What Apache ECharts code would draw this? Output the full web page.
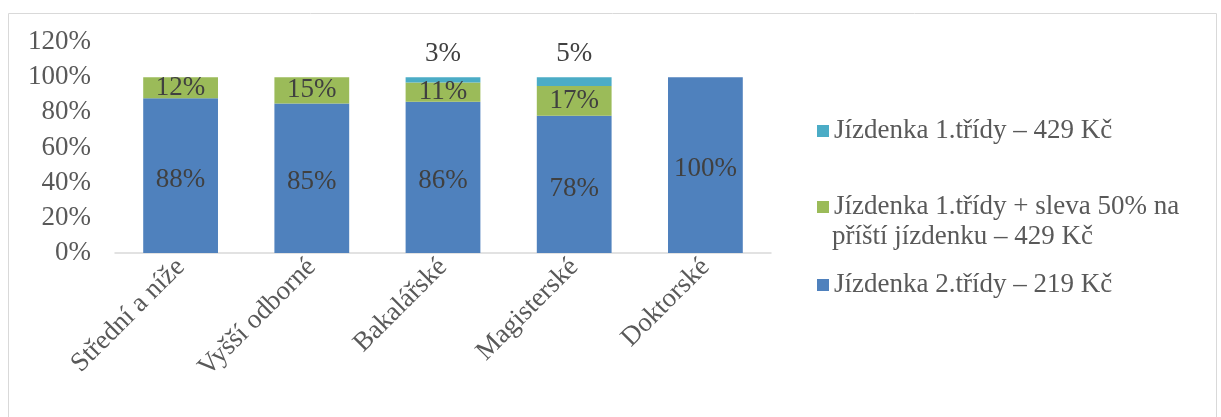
<!DOCTYPE html>
<html><head><meta charset="utf-8">
<script src="https://cdn.jsdelivr.net/npm/echarts@6/dist/echarts.min.js"></script>
<style>html,body{margin:0;padding:0;background:#fff}#c{width:1221px;height:417px}</style>
</head><body><div id="c"></div>
<script>
const categories = ['Střední a níže', 'Vyšší odborné', 'Bakalářské', 'Magisterské', 'Doktorské'];
const seriesNames = ['Jízdenka 2.třídy – 219 Kč', 'Jízdenka 1.třídy + sleva 50% na\npříští jízdenku – 429 Kč', 'Jízdenka 1.třídy – 429 Kč'];
const secondClass = [88, 85, 86, 78, 100];
const firstClassDiscount = [12, 15, 11, 17, 0];
const firstClass = [0, 0, 3, 5, 0];
const yTicks = [0, 20, 40, 60, 80, 100, 120];

const FONT = "'Liberation Serif', 'Times New Roman', serif";
const colors = ['#4f81bd', '#9bbb59', '#4bacc6'];
const fmt = p => p.value ? p.value + '%' : '';
const lbl = {show: true, formatter: fmt, color: '#404040', fontFamily: FONT, fontSize: 27};

const chart = echarts.init(document.getElementById('c'), null, {renderer: 'canvas'});
const legendBase = {
  orient: 'vertical', left: 812, itemWidth: 12, itemHeight: 12, itemGap: 0,
  icon: 'rect', selectedMode: false,
  textStyle: {fontFamily: FONT, fontSize: 27, color: '#595959', lineHeight: 34}
};
chart.setOption({
  animation: false,
  textStyle: {fontFamily: FONT},
  graphic: [
    {type: 'rect', shape: {x: 8.5, y: 13.5, width: 1208, height: 420}, style: {fill: 'none', stroke: '#d9d9d9', lineWidth: 1}, silent: true},
    {type: 'text', left: 832, top: 223, style: {text: seriesNames[1].split('\n')[1], font: "27px 'Liberation Serif', 'Times New Roman', serif", fill: '#595959'}, silent: true}
  ],
  legend: [
    Object.assign({}, legendBase, {top: 109, data: [seriesNames[2]]}),
    Object.assign({}, legendBase, {top: 185, data: [seriesNames[1]], formatter: n => n.split('\n')[0]}),
    Object.assign({}, legendBase, {top: 263, data: [seriesNames[0]]})
  ],
  grid: {left: 115, right: 450, top: 42, bottom: 164, containLabel: false},
  xAxis: {
    type: 'category', data: categories,
    axisLine: {lineStyle: {color: '#d9d9d9', width: 1.5}},
    axisTick: {show: false},
    axisLabel: {rotate: 45, color: '#595959', fontFamily: FONT, fontSize: 27, margin: 10, interval: 0}
  },
  yAxis: {
    type: 'value', min: yTicks[0], max: yTicks[yTicks.length - 1], interval: 20,
    axisLine: {show: false}, axisTick: {show: false}, splitLine: {show: false},
    axisLabel: {formatter: '{value}%', color: '#595959', fontFamily: FONT, fontSize: 27, margin: 24}
  },
  series: [
    {name: seriesNames[0], type: 'bar', stack: 's', data: secondClass, barWidth: '57%',
     itemStyle: {color: colors[0]}, label: Object.assign({position: 'inside', offset: [0, 4]}, lbl)},
    {name: seriesNames[1], type: 'bar', stack: 's', data: firstClassDiscount,
     itemStyle: {color: colors[1]}, label: Object.assign({position: 'inside'}, lbl)},
    {name: seriesNames[2], type: 'bar', stack: 's', data: firstClass,
     itemStyle: {color: colors[2]}, label: Object.assign({position: 'top', distance: 10}, lbl)}
  ]
});
</script></body></html>
